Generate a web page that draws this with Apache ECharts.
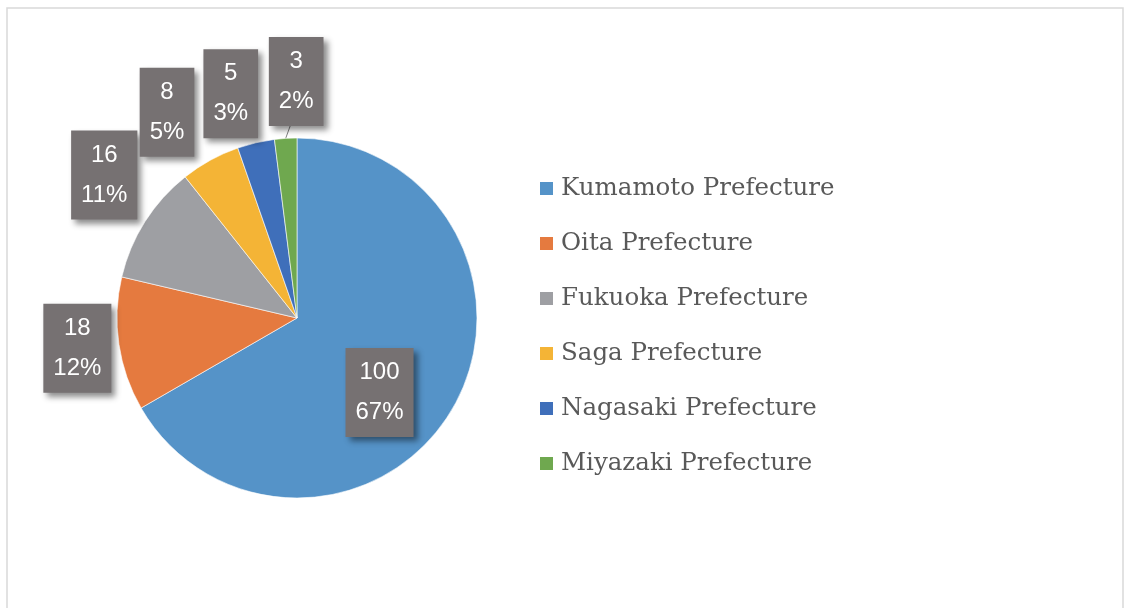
<!DOCTYPE html>
<html>
<head>
<meta charset="utf-8">
<style>
  html, body { margin: 0; padding: 0; background: #fff; }
  #chart { width: 1124px; height: 608px; }
</style>
<script src="https://cdn.jsdelivr.net/npm/echarts@6/dist/echarts.min.js"></script>
</head>
<body>
<div id="chart"></div>
<script>
// 数据
const prefectures = ['Kumamoto Prefecture', 'Oita Prefecture', 'Fukuoka Prefecture', 'Saga Prefecture', 'Nagasaki Prefecture', 'Miyazaki Prefecture'];
const counts = [100, 18, 16, 8, 5, 3];

const colors = ['#5593c8', '#e57a3f', '#9e9fa3', '#f4b436', '#3f6fba', '#6fa84f'];
// 标签相对库计算位置的微调 [dx, dy]
const labelShift = [[2, 28], [3, -2], [-2, -25], [-19, -13], [-11, -10], [18, -17]];

const chart = echarts.init(document.getElementById('chart'));

chart.setOption({
    animation: false,
    color: colors,
    graphic: [{
        type: 'rect',
        shape: { x: 7, y: 8, width: 1116, height: 700 },
        style: { fill: 'none', stroke: '#d9d9d9', lineWidth: 1.5 },
        silent: true
    }],
    legend: {
        orient: 'vertical',
        left: 533,
        top: 171,
        itemWidth: 15,
        itemHeight: 15,
        itemGap: 30,
        icon: 'rect',
        data: prefectures,
        textStyle: {
            fontFamily: 'DejaVu Serif',
            fontSize: 24.5,
            lineHeight: 24,
            color: '#595959',
            padding: [0, 0, 0, 2]
        }
    },
    series: [{
        type: 'pie',
        center: [297, 318],
        radius: 180,
        startAngle: 90,
        clockwise: true,
        avoidLabelOverlap: false,
        percentPrecision: 0,
        itemStyle: { borderColor: '#ffffff', borderWidth: 0.6 },
        label: {
            show: true,
            position: 'outside',
            formatter: '{c}\n{d}%',
            fontFamily: 'Liberation Sans',
            fontSize: 24,
            lineHeight: 40,
            color: '#ffffff',
            backgroundColor: '#767172',
            padding: [6, 10, 3, 10],
            shadowColor: 'rgba(0,0,0,0.45)',
            shadowBlur: 6,
            shadowOffsetX: 4,
            shadowOffsetY: 4
        },
        labelLine: { show: false, length: 40, length2: 0 },
        labelLayout: function (p) {
            const s = labelShift[p.dataIndex];
            const res = { align: 'center', dx: s[0], dy: s[1] };
            if (p.dataIndex === 5 && p.labelLinePoints) {
                const start = p.labelLinePoints[0];
                const r = p.labelRect;
                res.labelLinePoints = [start, [r.x + r.width + s[0] - 6, r.y + r.height + s[1]]];
            }
            return res;
        },
        data: prefectures.map((name, i) => ({
            name: name,
            value: counts[i],
            label: i === 0 ? { position: 'inside' } : undefined,
            labelLine: i === 5 ? { show: true, length: 40, length2: 0, lineStyle: { color: '#7f7f7f', width: 1 } } : undefined
        }))
    }]
});

window.addEventListener('resize', () => chart.resize());
</script>
</body>
</html>
